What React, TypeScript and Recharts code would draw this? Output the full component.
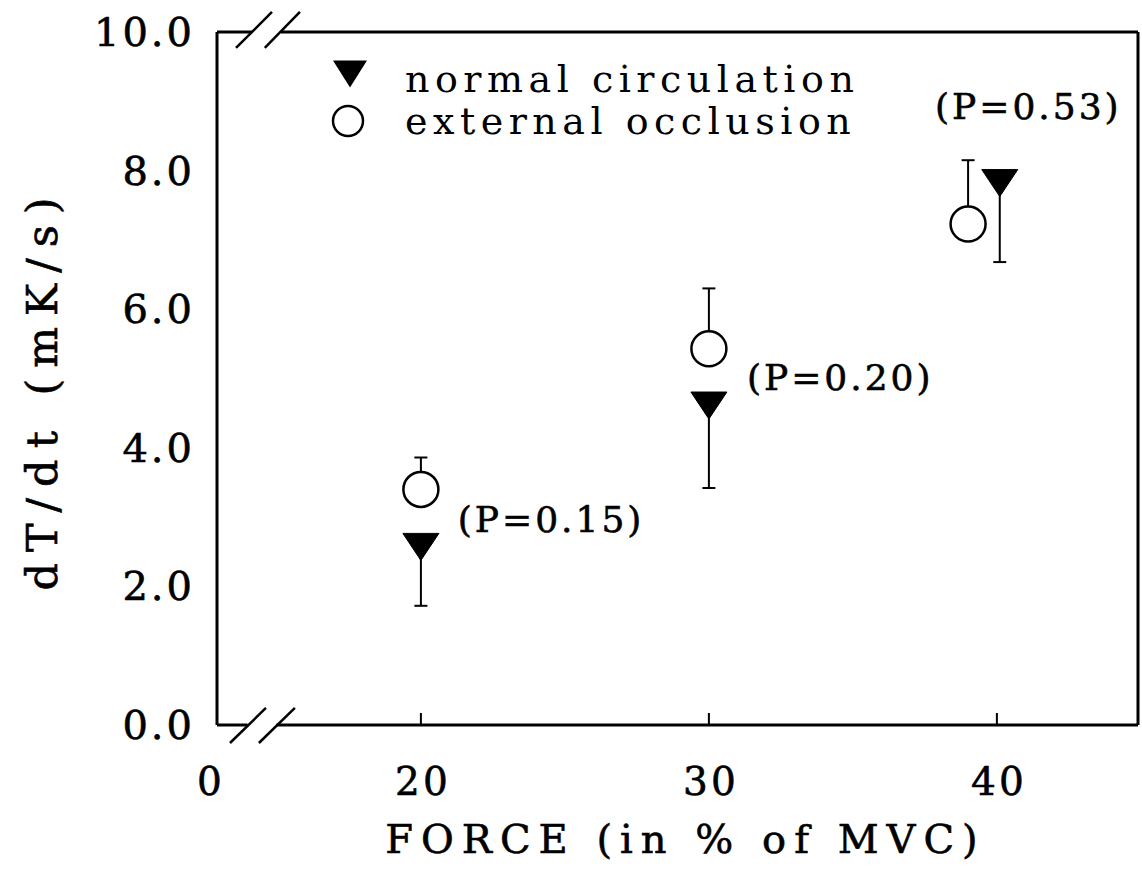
import React from 'react'
import {
  ScatterChart,
  Scatter,
  XAxis,
  YAxis,
  ErrorBar,
  ReferenceLine,
  Legend,
  Label,
} from 'recharts'

// axis range (x axis is broken between 0 and ~13)
const X_MIN = 12.92
const X_MAX = 44.9

const xTicks = [X_MIN, 20, 30, 40]
const xTickLabels = ['0', '20', '30', '40']
const yTicks = [0, 2, 4, 6, 8, 10]

// normal circulation (filled triangles, lower SD)
const forceNormal = [20, 30, 40.1]
const dtdtNormal = [2.57, 4.61, 7.82]
const sdNormal = [0.85, 1.19, 1.14]

// external occlusion (open circles, upper SD)
const forceOcclusion = [20, 30, 39]
const dtdtOcclusion = [3.4, 5.43, 7.23]
const sdOcclusion = [0.46, 0.87, 0.92]

// P-value annotations
const pLabels = ['(P=0.15)', '(P=0.20)', '(P=0.53)']
const pLabelX = [21.28, 31.32, 37.85]
const pLabelY = [2.96, 5.01, 8.93]

const normalData = forceNormal.map((x, i) => ({ x, y: dtdtNormal[i], err: [sdNormal[i], 0] }))
const occlusionData = forceOcclusion.map((x, i) => ({ x, y: dtdtOcclusion[i], err: [0, sdOcclusion[i]] }))
const pData = pLabelX.map((x, i) => ({ x, y: pLabelY[i], text: pLabels[i] }))

const SERIF = '"DejaVu Serif", serif'
const ink = { fill: '#000', stroke: '#000', strokeWidth: 0.6 }

const Nothing = () => <g />

const Triangle = (props: any) => {
  const { cx, cy } = props
  return (
    <polygon
      points={`${cx - 18},${cy - 13.5} ${cx + 18},${cy - 13.5} ${cx},${cy + 13.5}`}
      fill="#000"
      stroke="#000"
      strokeWidth={1}
    />
  )
}

const Circle = (props: any) => {
  const { cx, cy } = props
  return <circle cx={cx} cy={cy} r={17.5} fill="#fff" stroke="#000" strokeWidth={2.5} />
}

const PText = (props: any) => {
  const { cx, cy, payload } = props
  return (
    <text x={cx} y={cy} dominantBaseline="central" fontFamily={SERIF} fontSize={36} letterSpacing={3} {...ink}>
      {payload.text}
    </text>
  )
}

const XTick = (props: any) => {
  const { x, y, index } = props
  return (
    <g>
      {index > 0 && <line x1={x} y1={y} x2={x} y2={y - 12} stroke="#000" strokeWidth={2} />}
      <text
        x={index === 0 ? x - 6 : x + 2}
        y={y + 56}
        textAnchor="middle"
        dominantBaseline="central"
        fontFamily={SERIF}
        fontSize={39}
        letterSpacing={3}
        {...ink}
      >
        {xTickLabels[index]}
      </text>
    </g>
  )
}

const YTick = (props: any) => {
  const { x, y, payload } = props
  return (
    <text
      x={x - 22}
      y={y}
      textAnchor="end"
      dominantBaseline="central"
      fontFamily={SERIF}
      fontSize={40}
      letterSpacing={3}
      {...ink}
    >
      {payload.value.toFixed(1)}
    </text>
  )
}

const YTitle = (props: any) => {
  const { viewBox } = props
  const x = viewBox.x + 42
  const y = viewBox.y + viewBox.height / 2 + 10
  return (
    <text
      x={x}
      y={y}
      transform={`rotate(-90, ${x}, ${y})`}
      textAnchor="middle"
      dominantBaseline="central"
      fontFamily={SERIF}
      fontSize={43}
      letterSpacing={11}
      {...ink}
    >
      dT/dt (mK/s)
    </text>
  )
}

const XTitle = (props: any) => {
  const { viewBox } = props
  return (
    <text
      x={viewBox.x + viewBox.width / 2 + 8}
      y={viewBox.y + 114}
      textAnchor="middle"
      dominantBaseline="central"
      fontFamily={SERIF}
      fontSize={40}
      letterSpacing={8}
      {...ink}
    >
      FORCE (in % of MVC)
    </text>
  )
}

const renderLegend = () => (
  <svg width={580} height={100} style={{ display: 'block' }}>
    <polygon points="13,10.5 47,10.5 30,37.5" fill="#000" />
    <circle cx={28} cy={71} r={15} fill="#fff" stroke="#000" strokeWidth={2.5} />
    <text x={85} y={42} fontFamily={SERIF} fontSize={38} letterSpacing={5.5} fill="#000">
      normal circulation
    </text>
    <text x={85} y={84} fontFamily={SERIF} fontSize={38} letterSpacing={5.5} fill="#000">
      external occlusion
    </text>
  </svg>
)

const line = { stroke: '#000', strokeWidth: 3, ifOverflow: 'visible' as const }

export default function App() {
  return (
    <div style={{ position: 'absolute', left: 0, top: 0, background: '#fff' }}>
      <ScatterChart width={1142} height={872} margin={{ top: 32, right: 4, bottom: 0, left: 0 }}>
        <XAxis
          type="number"
          dataKey="x"
          domain={[X_MIN, X_MAX]}
          ticks={xTicks}
          interval={0}
          allowDataOverflow
          axisLine={false}
          tickLine={false}
          tickSize={0}
          tickMargin={0}
          height={147}
          tick={<XTick />}
        >
          <Label content={<XTitle />} />
        </XAxis>
        <YAxis
          type="number"
          dataKey="y"
          domain={[0, 10]}
          ticks={yTicks}
          interval={0}
          allowDataOverflow
          axisLine={false}
          tickLine={false}
          tickSize={0}
          tickMargin={0}
          width={217}
          tick={<YTick />}
        >
          <Label content={<YTitle />} />
        </YAxis>

        {/* frame with axis breaks */}
        <ReferenceLine segment={[{ x: X_MIN, y: 0 }, { x: X_MIN, y: 10 }]} {...line} />
        <ReferenceLine segment={[{ x: X_MAX, y: 0 }, { x: X_MAX, y: 10 }]} {...line} />
        <ReferenceLine segment={[{ x: X_MIN, y: 10 }, { x: 14.13, y: 10 }]} {...line} />
        <ReferenceLine segment={[{ x: 15.14, y: 10 }, { x: X_MAX, y: 10 }]} {...line} />
        <ReferenceLine segment={[{ x: X_MIN, y: 0 }, { x: 13.98, y: 0 }]} {...line} />
        <ReferenceLine segment={[{ x: 14.98, y: 0 }, { x: X_MAX, y: 0 }]} {...line} />
        <ReferenceLine segment={[{ x: 13.58, y: 9.77 }, { x: 14.83, y: 10.29 }]} {...line} strokeWidth={2.5} />
        <ReferenceLine segment={[{ x: 14.58, y: 9.77 }, { x: 15.8, y: 10.29 }]} {...line} strokeWidth={2.5} />
        <ReferenceLine segment={[{ x: 13.37, y: -0.26 }, { x: 14.62, y: 0.246 }]} {...line} strokeWidth={2.5} />
        <ReferenceLine segment={[{ x: 14.375, y: -0.26 }, { x: 15.625, y: 0.246 }]} {...line} strokeWidth={2.5} />

        <Scatter data={normalData} shape={Nothing} isAnimationActive={false} legendType="none">
          <ErrorBar dataKey="err" direction="y" width={6.5} stroke="#000" strokeWidth={2} />
        </Scatter>
        <Scatter data={occlusionData} shape={Nothing} isAnimationActive={false} legendType="none">
          <ErrorBar dataKey="err" direction="y" width={6.5} stroke="#000" strokeWidth={2} />
        </Scatter>
        <Scatter name="normal circulation" data={normalData} shape={Triangle} isAnimationActive={false} />
        <Scatter name="external occlusion" data={occlusionData} shape={Circle} isAnimationActive={false} />
        <Scatter data={pData} shape={PText} isAnimationActive={false} legendType="none" />

        <Legend
          layout="vertical"
          align="center"
          verticalAlign="middle"
          content={renderLegend}
          wrapperStyle={{ left: 320, top: 50, width: 580, height: 100 }}
        />
      </ScatterChart>
    </div>
  )
}
